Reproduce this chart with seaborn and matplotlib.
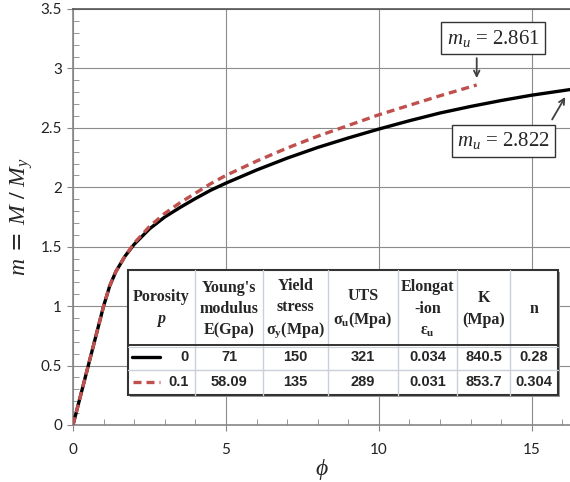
import matplotlib
matplotlib.use("Agg")
import matplotlib.pyplot as plt
import seaborn as sns
import pandas as pd
from matplotlib.patches import Rectangle
from matplotlib.ticker import MultipleLocator

# ---------------- data ----------------
phi_p0 = [0, 0.5, 1.0, 1.2, 1.4, 1.7, 2.0, 2.5, 3.0, 3.5, 4.0, 4.5, 5, 6, 7, 8, 9, 10, 11, 12, 13, 14, 15, 16.25]
m_p0 = [0, 0.5, 1.0, 1.17, 1.29, 1.42, 1.52, 1.65, 1.75, 1.83, 1.905, 1.975, 2.035, 2.145, 2.245, 2.335,
        2.415, 2.49, 2.56, 2.625, 2.68, 2.73, 2.775, 2.822]
phi_p01 = [0, 0.5, 1.0, 1.2, 1.4, 1.7, 2.0, 2.5, 3.0, 3.5, 4.0, 4.5, 5, 6, 7, 8, 9, 10, 11, 12, 13.2]
m_p01 = [0, 0.5, 1.0, 1.17, 1.29, 1.42, 1.53, 1.67, 1.78, 1.87, 1.95, 2.03, 2.10, 2.22, 2.33, 2.43,
         2.52, 2.61, 2.69, 2.77, 2.861]

mu_labels = [r"$m_u$ = 2.861", r"$m_u$ = 2.822"]

table_header = ["Porosity\n$\\mathbfit{p}$", "Young's\nmodulus\nE(Gpa)", "Yield\nstress\nσ$_\\mathrm{y}$(Mpa)",
                "UTS\nσ$_\\mathrm{u}$(Mpa)", "Elongat\n-ion\nε$_\\mathrm{u}$", "K\n(Mpa)", "n"]
row_p0 = ["0", "71", "150", "321", "0.034", "840.5", "0.28"]
row_p01 = ["0.1", "58.09", "135", "289", "0.031", "853.7", "0.304"]

# ---------------- style ----------------
sns.set_style("ticks")
plt.rcParams["mathtext.fontset"] = "custom"
plt.rcParams["mathtext.rm"] = "Liberation Serif:bold"
plt.rcParams["mathtext.it"] = "Liberation Serif:italic"
plt.rcParams["mathtext.bf"] = "Liberation Serif:bold"
plt.rcParams["mathtext.bfit"] = "Liberation Serif:bold:italic"

fig = plt.figure(figsize=(5.7, 4.82), dpi=100)
ax = fig.add_axes([73/570, 57/482, 497/570, 416/482])

red = "#C0504D"
df0 = pd.DataFrame({"phi": phi_p0, "m": m_p0})
df1 = pd.DataFrame({"phi": phi_p01, "m": m_p01})
sns.lineplot(data=df0, x="phi", y="m", ax=ax, color="black", lw=2.4, estimator=None, sort=False, zorder=3)
sns.lineplot(data=df1, x="phi", y="m", ax=ax, color=red, lw=2.4, estimator=None, sort=False,
             dashes=False, zorder=4)
ax.lines[-1].set_dashes([2.4, 1.5])

ax.set_xlim(0, 16.25)
ax.set_ylim(0, 3.5)
ax.xaxis.set_major_locator(MultipleLocator(5))
ax.xaxis.set_minor_locator(MultipleLocator(1))
ax.yaxis.set_major_locator(MultipleLocator(0.5))
ax.yaxis.set_minor_locator(MultipleLocator(0.1))
ax.set_yticks([0, 0.5, 1, 1.5, 2, 2.5, 3, 3.5])
ax.set_yticklabels(["0", "0.5", "1", "1.5", "2", "2.5", "3", "3.5"])
ax.grid(True, which="major", color="#8c8c8c", lw=0.8)
ax.set_axisbelow(True)

gray = "#868686"
for s in ["left", "bottom"]:
    ax.spines[s].set_color(gray)
    ax.spines[s].set_linewidth(1.2)
ax.spines["top"].set_color("#555555")
ax.spines["top"].set_linewidth(1.2)
ax.spines["right"].set_visible(False)
ax.tick_params(which="major", direction="out", length=4, color=gray, labelsize=11,
               labelcolor="#222222", pad=4)
ax.tick_params(which="minor", direction="in", length=4, color=gray)
for lab in ax.get_xticklabels() + ax.get_yticklabels():
    lab.set_family("Lato")
ax.tick_params(axis="x", pad=9)

ax.set_xlabel(r"$\phi$", fontsize=17, labelpad=0)
ax.set_ylabel(r"$m$ = $M\ /\ M_y$", fontsize=17, labelpad=4)

# ---------------- annotations ----------------
ax.text(13.73, 3.255, mu_labels[0], fontsize=15, family="Liberation Serif", ha="center", va="center",
        bbox=dict(boxstyle="square,pad=0.25", fc="white", ec="#333333", lw=1.0), zorder=6)
ax.annotate("", xy=(13.2, 2.895), xytext=(13.2, 3.11),
            arrowprops=dict(arrowstyle="->", color="#404040", lw=1.3), zorder=6)
ax.text(14.08, 2.39, mu_labels[1], fontsize=15, family="Liberation Serif", ha="center", va="center",
        bbox=dict(boxstyle="square,pad=0.25", fc="white", ec="#333333", lw=1.0), zorder=6)
ax.annotate("", xy=(16.14, 2.78), xytext=(15.62, 2.55),
            arrowprops=dict(arrowstyle="->", color="#404040", lw=1.3), zorder=6)

# ---------------- table ----------------
def fx(px):
    return (px - 73) / 497

def fy(py):
    return (425 - py) / 416

cols = [128, 195, 263, 328, 398, 457, 510, 558]
top, hbot, mid, bot = 270, 345, 369.5, 395
T = ax.transAxes
ax.add_patch(Rectangle((fx(cols[0]) + 0.004, fy(bot) - 0.006), fx(cols[-1]) - fx(cols[0]), fy(top) - fy(bot),
                       transform=T, fc="#9a9a9a", ec="none", zorder=7, clip_on=False))
ax.add_patch(Rectangle((fx(cols[0]), fy(bot)), fx(cols[-1]) - fx(cols[0]), fy(top) - fy(bot),
                       transform=T, fc="white", ec="#333333", lw=1.5, zorder=8, clip_on=False))
inner = "#c9d0da"
for c in cols[1:-1]:
    ax.plot([fx(c), fx(c)], [fy(bot), fy(top)], transform=T, color=inner, lw=1.0, zorder=9)
ax.plot([fx(cols[0]), fx(cols[-1])], [fy(hbot), fy(hbot)], transform=T, color="#333333", lw=1.4, zorder=9)
ax.plot([fx(cols[0]), fx(cols[-1])], [fy(hbot) - 0.006, fy(hbot) - 0.006], transform=T, color=inner, lw=0.8, zorder=9)
ax.plot([fx(cols[0]), fx(cols[-1])], [fy(mid), fy(mid)], transform=T, color=inner, lw=1.0, zorder=9)

for i, h in enumerate(table_header):
    cx = (fx(cols[i]) + fx(cols[i + 1])) / 2
    ax.text(cx, fy(309), h, transform=T, ha="center", va="center", fontsize=11.5,
            family="Liberation Serif", weight="bold", linespacing=1.45, zorder=10)

for row, py in [(row_p0, 357), (row_p01, 382)]:
    for i, v in enumerate(row):
        if i == 0:
            cx = fx(cols[1]) - 0.012
            ha = "right"
        else:
            cx = (fx(cols[i]) + fx(cols[i + 1])) / 2
            ha = "center"
        ax.text(cx, fy(py), v, transform=T, ha=ha, va="center", fontsize=10.5,
                family="Liberation Sans", weight="bold", zorder=10)

ax.plot([fx(132), fx(160)], [fy(357), fy(357)], transform=T, color="black", lw=2.4, zorder=10)
ax.plot([fx(133), fx(160)], [fy(382), fy(382)], transform=T, color=red, lw=2.4, zorder=10,
        dashes=[2.4, 1.5])

fig.savefig("out.png", dpi=100)
